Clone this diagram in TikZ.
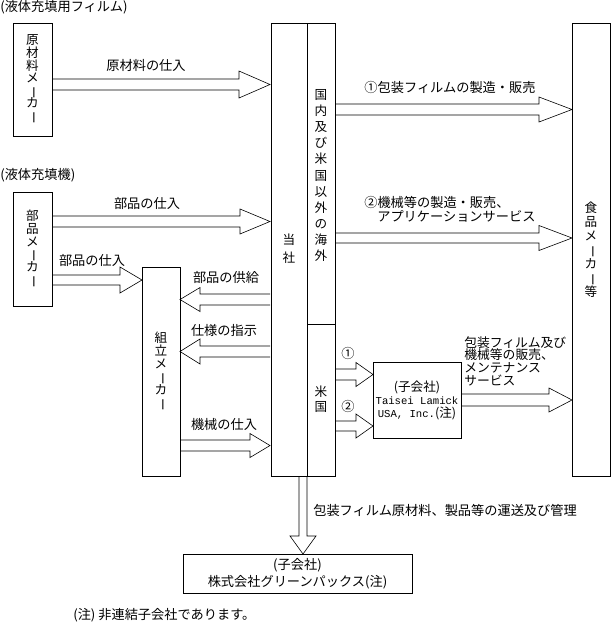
\documentclass[tikz,border=0pt]{standalone}
\usepackage{fontspec}
\newfontfamily\jp{Noto Sans CJK JP}
\newfontfamily\lmono{Liberation Mono}
\newcommand{\vbar}{\rotatebox[origin=c]{-90}{ー}}
\newcommand{\harrow}[6]{\draw[blk] (#1,{#4-#5}) -- (#2,{#4-#5}) -- (#2,{#4-#6}) -- (#3,#4) -- (#2,{#4+#6}) -- (#2,{#4+#5}) -- (#1,{#4+#5});}
\begin{document}
\begin{tikzpicture}[x=1pt,y=-1pt,
  font=\jp\fontsize{13.2}{15}\selectfont,
  line width=0.6pt,
  box/.style={draw, inner sep=0pt},
  blk/.style={draw, line join=miter},
  lab/.style={inner sep=0pt},
  vt/.style={align=center, font={\jp\fontsize{12.6}{#1}\selectfont\lineskiplimit=-20pt}}]
\useasboundingbox (0,0) rectangle (611,622);

\node[lab, anchor=west] (t1) at (0,7) {(液体充填用フィルム)};
\node[lab, anchor=west] (t2) at (0,175) {(液体充填機)};

\node[box, minimum width=39, minimum height=113, vt=12.6] (genzai) at (32.5,79.5) {原\\材\\料\\メ\\\vbar\\カ\\\vbar};
\node[box, minimum width=39, minimum height=114, vt=12.7] (buhin) at (32.5,249) {部\\品\\メ\\\vbar\\カ\\\vbar};
\node[box, minimum width=38, minimum height=209, vt=13] (kumi) at (161,371.5) {組\\立\\メ\\\vbar\\カ\\\vbar};
\node[box, minimum width=64, minimum height=453] (tosha) at (303,249.5) {};
\node[box, minimum width=38, minimum height=453, vt=14] (food) at (591,249.5) {食\\品\\メ\\\vbar\\カ\\\vbar\\等};

\node[lab, vt=18] (tsha) at (289,249) {当\\社};
\node[lab, vt=16.1] (kokunai) at (321,175.5) {国\\内\\及\\び\\米\\国\\以\\外\\の\\海\\外};
\node[lab, vt=15] (bei) at (321,399.5) {米\\国};
\draw (307,23) -- (307,476);
\draw (307,324) -- (335,324);

\node[box, minimum width=88, minimum height=76, align=center, font=\jp\fontsize{12.6}{13}\selectfont] (taisei) at (417,400) {(子会社)\\{\lmono\fontsize{10.6}{13}\selectfont Taisei Lamick}\\{\lmono\fontsize{10.6}{13}\selectfont USA, Inc.}(注)};

\node[box, minimum width=229, minimum height=39, align=center, font=\jp\fontsize{13.2}{17}\selectfont] (green) at (297.5,573.5) {(子会社)\\株式会社グリーンパックス(注)};

\node[lab, anchor=west] (note) at (73,615) {(注) 非連結子会社であります。};

% arrows
\harrow{52}{239}{270}{84.5}{5.5}{13.5}
\node[lab] (l1) at (146,65) {原材料の仕入};
\harrow{52}{240}{270}{221.5}{5.5}{12.5}
\node[lab] (l2) at (147,203) {部品の仕入};
\harrow{52}{120}{142}{280}{5}{13}
\node[lab] (l3) at (92,260) {部品の仕入};
\harrow{270}{200}{180}{299.5}{5.5}{12}
\node[lab] (l4) at (226,277) {部品の供給};
\harrow{270}{200}{180}{351.5}{5.5}{12.5}
\node[lab] (l5) at (224,330) {仕様の指示};
\harrow{180}{250}{270}{445.5}{5.5}{12}
\node[lab] (l6) at (224,424) {機械の仕入};
\harrow{335}{539}{572}{109.5}{5.5}{12.5}
\node[lab] (l7) at (450,87) {①包装フィルムの製造・販売};
\harrow{335}{539}{572}{238}{5}{12.5}
\node[lab, anchor=north west, align=left, font={\jp\fontsize{13.2}{14}\selectfont\lineskiplimit=-20pt}] (l8) at (364,196) {②機械等の製造・販売、\\\hspace*{13pt}アプリケーションサービス};
\harrow{335}{356}{373}{374.5}{5.5}{12}
\node[lab] (l9) at (348,353) {①};
\harrow{335}{356}{373}{426}{5}{12}
\node[lab] (l10) at (348,406) {②};
\harrow{461}{549}{572}{400}{6}{12}
\node[lab, anchor=north west, align=left, font={\jp\fontsize{12.8}{12.7}\selectfont\lineskiplimit=-20pt}] (l11) at (464,336) {包装フィルム及び\\機械等の販売、\\メンテナンス\\サービス};

\draw[blk] (299,476) -- (299,536) -- (290,536) -- (303,554) -- (316,536) -- (307,536) -- (307,476);
\node[lab, anchor=west] (l12) at (313,510) {包装フィルム原材料、製品等の運送及び管理};
\end{tikzpicture}
\end{document}
